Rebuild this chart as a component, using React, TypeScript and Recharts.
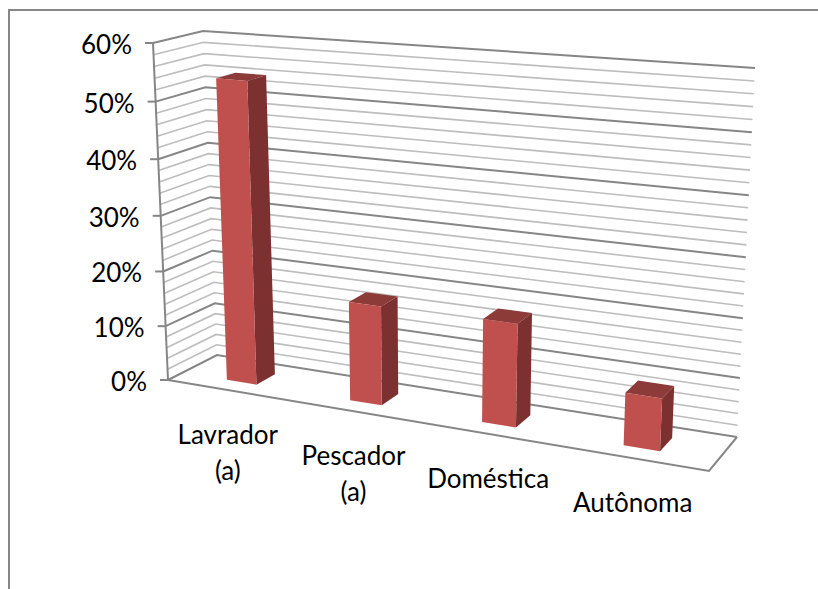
import { Bar, BarChart, CartesianGrid, Customized, XAxis, YAxis } from "recharts";

const categories = ["Lavrador (a)", "Pescador (a)", "Doméstica", "Autônoma"];
const shares = [54, 17.6, 17.9, 8.9];
const gridTicks = [0, 2, 4, 6, 8, 10, 12, 14, 16, 18, 20, 22, 24, 26, 28, 30, 32, 34, 36, 38, 40, 42, 44, 46, 48, 50, 52, 54, 56, 58, 60];

const data = categories.map((name, i) => ({ name, share: shares[i] }));

const W = 818;
const H = 589;
const PLOT = { left: 100, top: 40, width: 618, height: 449 };
const AXIS_MAX = 60;
const FONT = "Lato, 'Open Sans', sans-serif";
const MAJOR = "#868686";
const MINOR = "#bdbdbd";

type Pt = [number, number];
const lerp = (a: Pt, b: Pt, t: number): Pt => [a[0] + (b[0] - a[0]) * t, a[1] + (b[1] - a[1]) * t];

// corners of the 3D box on screen
const FLB: Pt = [168, 380];
const FLT: Pt = [153, 43];
const BLB: Pt = [217, 355];
const BLT: Pt = [203, 31];
const FRB: Pt = [709, 471];
const FRT: Pt = [727, 90];
const BRB: Pt = [737, 437];
const BRT: Pt = [755, 68];

// foreshortening along the category and value axes
const warp = (t: number, a: number) => (a * t) / (1 - t + a * t);

// u: along categories, d: depth (0 front, 1 back), h: height
function project(u: number, d: number, h: number): Pt {
  const w = warp(u, 0.87);
  const bottom = lerp(lerp(FLB, FRB, w), lerp(BLB, BRB, w), d);
  const top = lerp(lerp(FLT, FRT, w), lerp(BLT, BRT, w), d);
  return lerp(bottom, top, warp(h, 0.95));
}

const toU = (x: number) => (x - PLOT.left) / PLOT.width;
const toH = (y: number) => (PLOT.top + PLOT.height - y) / PLOT.height;
const pts = (list: Pt[]) => list.map((p) => p.join(",")).join(" ");

// one grid level: a line across the side wall and on along the back wall
function GridLevel(props: any) {
  const h = toH(props.y1);
  const major = Math.round(h * AXIS_MAX) % 10 === 0;
  return (
    <polyline
      key={props.key}
      points={pts([project(0, 0, h), project(0, 1, h), project(1, 1, h)])}
      fill="none"
      stroke={major ? MAJOR : MINOR}
      strokeWidth={major ? 2 : 1.6}
    />
  );
}

function BoxEdges() {
  return (
    <g fill="none" stroke={MAJOR} strokeWidth={2}>
      <line x1={FLT[0]} y1={FLT[1]} x2={FLB[0]} y2={FLB[1]} />
      <polyline points={pts([FLB, FRB, BRB])} />
    </g>
  );
}

function ValueTick({ y, payload }: any) {
  if (payload.value % 10 !== 0) return null;
  const [px, py] = project(0, 0, toH(y));
  return (
    <g>
      <line x1={px - 8} y1={py} x2={px} y2={py} stroke={MAJOR} strokeWidth={2} />
      <text x={px - 21} y={py + 11} textAnchor="end" fontFamily={FONT} fontSize={26} fill="#000">
        {payload.value}%
      </text>
    </g>
  );
}

function CategoryTick({ x, payload }: any) {
  const [px, py] = project(toU(x), 0, 0);
  const lines = String(payload.value).split(" ");
  return (
    <text x={px} y={py + 54} textAnchor="middle" fontFamily={FONT} fontSize={26} fill="#000">
      {lines.map((line, i) => (
        <tspan key={line} x={px} dy={i === 0 ? 0 : 36}>
          {line}
        </tspan>
      ))}
    </text>
  );
}

function Column({ x, y, width, height }: any) {
  const u0 = toU(x);
  const u1 = toU(x + width);
  const h0 = toH(y + height);
  const h1 = toH(y);
  const d0 = 0.3;
  const d1 = 0.7;
  return (
    <g>
      <polygon points={pts([project(u0, d0, h1), project(u1, d0, h1), project(u1, d1, h1), project(u0, d1, h1)])} fill="#8c3b39" />
      <polygon points={pts([project(u1, d0, h0), project(u1, d0, h1), project(u1, d1, h1), project(u1, d1, h0)])} fill="#7c302f" />
      <polygon points={pts([project(u0, d0, h0), project(u0, d0, h1), project(u1, d0, h1), project(u1, d0, h0)])} fill="#c0504d" />
    </g>
  );
}

export default function App() {
  return (
    <div style={{ position: "absolute", left: 0, top: 0, width: W, height: H, overflow: "hidden", background: "#fff" }}>
      <div style={{ position: "absolute", left: 8, top: 9, width: W, height: H, boxSizing: "border-box", borderTop: `2px solid ${MAJOR}`, borderLeft: `2px solid ${MAJOR}` }} />
      <div style={{ position: "absolute", left: 0, top: 0 }}>
        <BarChart
          width={W}
          height={H}
          data={data}
          margin={{ top: PLOT.top, left: PLOT.left - 40, right: W - PLOT.left - PLOT.width, bottom: H - PLOT.top - PLOT.height - 30 }}
          barSize={38}
        >
          <CartesianGrid vertical={false} horizontal={GridLevel as any} />
          <Customized component={BoxEdges} />
          <XAxis dataKey="name" height={30} axisLine={false} tickLine={false} interval={0} tick={CategoryTick as any} />
          <YAxis type="number" domain={[0, AXIS_MAX]} ticks={gridTicks} interval={0} width={40} axisLine={false} tickLine={false} tick={ValueTick as any} />
          <Bar dataKey="share" isAnimationActive={false} shape={Column as any} />
        </BarChart>
      </div>
    </div>
  );
}
